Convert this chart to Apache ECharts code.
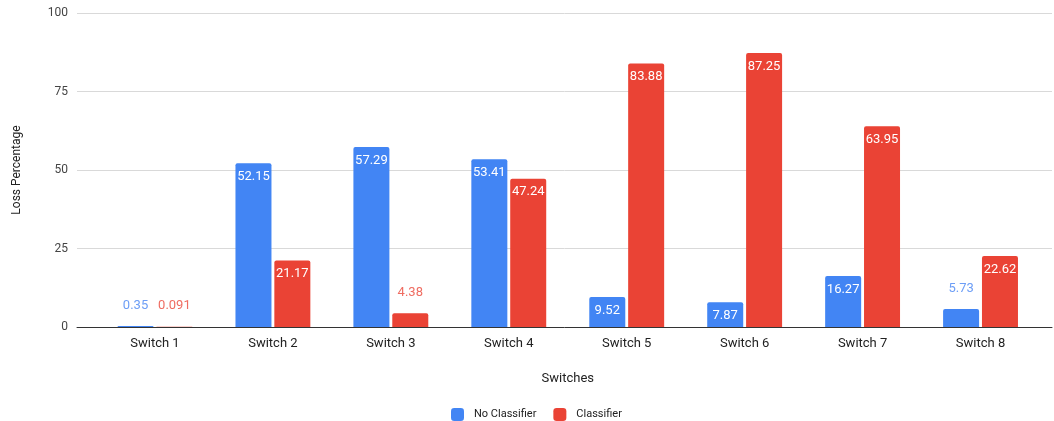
<!DOCTYPE html>
<html>
<head>
<meta charset="utf-8">
<script src="https://cdn.jsdelivr.net/npm/echarts@6/dist/echarts.min.js"></script>
<style>
  html, body { margin: 0; padding: 0; background: #fff; }
  #chart { width: 1054px; height: 421px; }
</style>
</head>
<body>
<div id="chart"></div>
<script>
const categories = ['Switch 1', 'Switch 2', 'Switch 3', 'Switch 4', 'Switch 5', 'Switch 6', 'Switch 7', 'Switch 8'];
const noClassifier = [0.35, 52.15, 57.29, 53.41, 9.52, 7.87, 16.27, 5.73];
const classifier = [0.091, 21.17, 4.38, 47.24, 83.88, 87.25, 63.95, 22.62];
const yTicks = [0, 25, 50, 75, 100];

const BLUE = '#4285f4';
const RED = '#ea4335';
const FONT = 'Roboto, "Liberation Sans", sans-serif';

// Values too small to hold a label inside the bar get it above, in a lighter series tint
function withLabels(values, outsideColor) {
  return values.map(v => {
    if (v >= 7) {
      return {
        value: v,
        label: { show: true, position: 'insideTop', distance: 7, color: '#fff' }
      };
    }
    return {
      value: v,
      label: { show: true, position: 'top', distance: 14, color: outsideColor }
    };
  });
}

const chart = echarts.init(document.getElementById('chart'), null, { renderer: 'canvas' });

chart.setOption({
  animation: false,
  textStyle: { fontFamily: FONT },
  legend: {
    data: ['No Classifier', 'Classifier'],
    left: 446,
    top: 403,
    icon: 'roundRect',
    itemWidth: 13,
    itemHeight: 13,
    itemGap: 17,
    textStyle: { fontSize: 11, color: '#222', fontFamily: FONT, padding: [0, 0, 0, 5] }
  },
  grid: [
    // full-width grid carrying the value scale, gridlines and baseline
    { left: 77, right: 2, top: 13, bottom: 94 },
    // category band holding the bars
    { left: 96, right: 14.5, top: 13, bottom: 94 }
  ],
  xAxis: [
    {
      gridIndex: 0,
      type: 'value',
      min: 0,
      max: 1,
      axisLine: { show: true, lineStyle: { color: '#333', width: 1 } },
      axisTick: { show: false },
      axisLabel: { show: false },
      splitLine: { show: false }
    },
    {
      gridIndex: 1,
      type: 'category',
      data: categories,
      axisLine: { show: false },
      axisTick: { show: false },
      axisLabel: { color: '#222', fontSize: 13, margin: 10, fontFamily: FONT },
      name: 'Switches',
      nameLocation: 'middle',
      nameGap: 45,
      nameTextStyle: { color: '#222', fontSize: 13, fontFamily: FONT }
    }
  ],
  yAxis: [
    {
      gridIndex: 0,
      type: 'value',
      min: yTicks[0],
      max: yTicks[yTicks.length - 1],
      interval: yTicks[1] - yTicks[0],
      axisLine: { show: false },
      axisTick: { show: false },
      axisLabel: { color: '#444', fontSize: 12, margin: 9, fontFamily: FONT },
      splitLine: { show: true, lineStyle: { color: '#d9d9d9', width: 1 } },
      name: 'Loss Percentage',
      nameLocation: 'middle',
      nameGap: 54,
      nameTextStyle: { color: '#222', fontSize: 12, fontFamily: FONT }
    },
    {
      gridIndex: 1,
      type: 'value',
      min: yTicks[0],
      max: yTicks[yTicks.length - 1],
      show: false,
      splitLine: { show: false }
    }
  ],
  series: [
    {
      name: 'No Classifier',
      type: 'bar',
      xAxisIndex: 1,
      yAxisIndex: 1,
      barWidth: 36,
      barGap: '8%',
      itemStyle: { color: BLUE, borderRadius: [2, 2, 0, 0] },
      label: { fontSize: 13, fontFamily: FONT },
      data: withLabels(noClassifier, '#6d9ef6')
    },
    {
      name: 'Classifier',
      type: 'bar',
      xAxisIndex: 1,
      yAxisIndex: 1,
      barWidth: 36,
      barGap: '8%',
      itemStyle: { color: RED, borderRadius: [2, 2, 0, 0] },
      label: { fontSize: 13, fontFamily: FONT },
      data: withLabels(classifier, '#ef6c61')
    }
  ]
});
</script>
</body>
</html>
